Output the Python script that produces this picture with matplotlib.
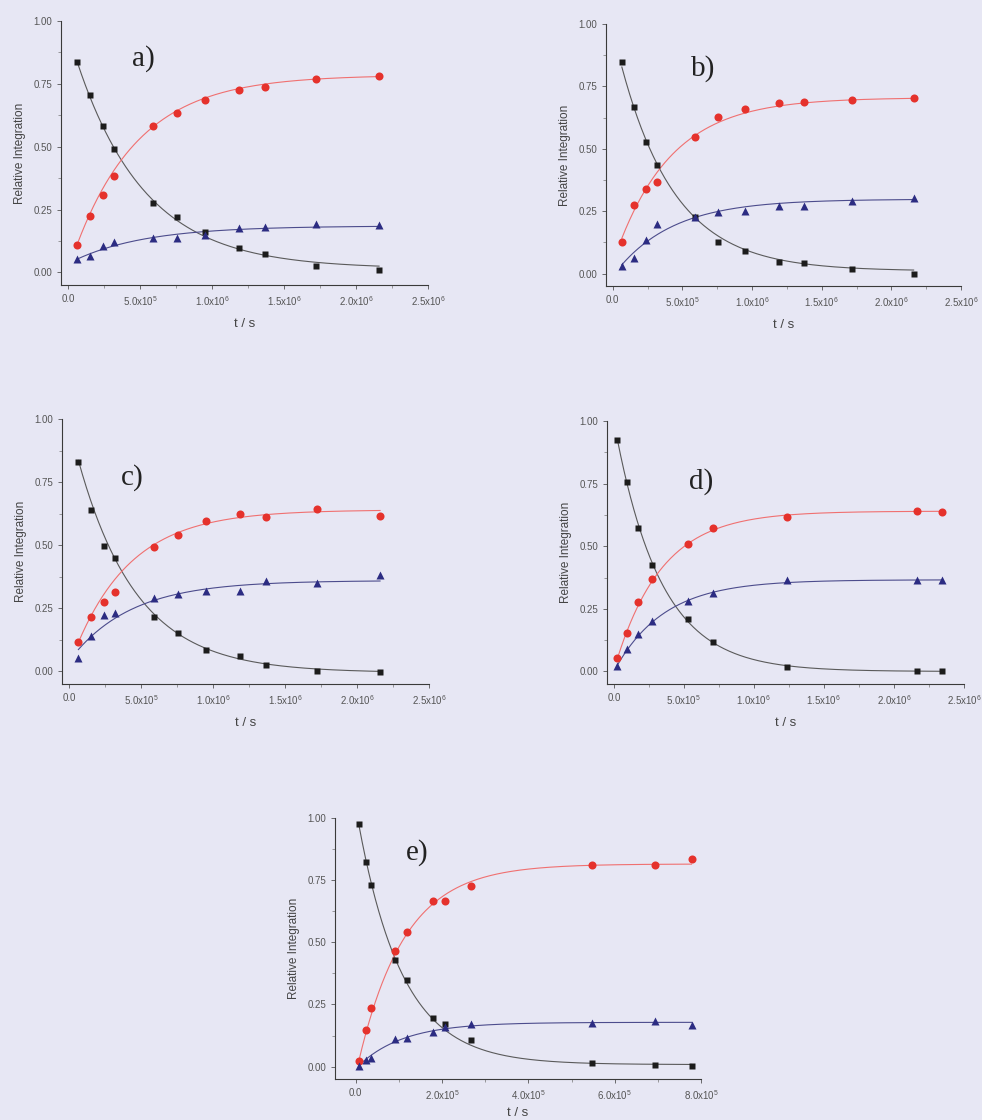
import numpy as np
import matplotlib
matplotlib.use('Agg')
import matplotlib.pyplot as plt
from matplotlib.ticker import MultipleLocator, FixedLocator, FixedFormatter

plt.rcParams['font.family'] = ['Liberation Sans', 'DejaVu Sans']
plt.rcParams['mathtext.default'] = 'regular'

# ---- data (t in units of 1e6 s for a-d, 1e5 s for e) ----
T_ABC = [0.065, 0.15, 0.24, 0.32, 0.59, 0.755, 0.95, 1.19, 1.37, 1.72, 2.16]

A_SQ = [0.835, 0.707, 0.583, 0.491, 0.276, 0.222, 0.159, 0.097, 0.074, 0.027, 0.009]
A_CIR = [0.108, 0.223, 0.307, 0.384, 0.584, 0.633, 0.685, 0.724, 0.736, 0.768, 0.781]
A_TRI = [0.053, 0.065, 0.106, 0.120, 0.138, 0.138, 0.150, 0.175, 0.179, 0.193, 0.190]

B_SQ = [0.849, 0.666, 0.527, 0.434, 0.225, 0.125, 0.091, 0.047, 0.044, 0.020, 0.000]
B_CIR = [0.127, 0.274, 0.340, 0.368, 0.547, 0.627, 0.660, 0.682, 0.688, 0.694, 0.705]
B_TRI = [0.029, 0.063, 0.136, 0.200, 0.227, 0.246, 0.252, 0.272, 0.272, 0.292, 0.304]

C_SQ = [0.828, 0.638, 0.497, 0.451, 0.216, 0.153, 0.086, 0.060, 0.025, 0.000, -0.004]
C_CIR = [0.118, 0.216, 0.276, 0.314, 0.493, 0.541, 0.597, 0.622, 0.613, 0.642, 0.617]
C_TRI = [0.054, 0.141, 0.222, 0.232, 0.289, 0.306, 0.317, 0.317, 0.357, 0.351, 0.381]

T_D = [0.026, 0.093, 0.176, 0.276, 0.530, 0.711, 1.236, 2.167, 2.343]
D_SQ = [0.924, 0.756, 0.572, 0.425, 0.209, 0.119, 0.017, 0.000, 0.000]
D_CIR = [0.053, 0.153, 0.277, 0.371, 0.508, 0.571, 0.615, 0.641, 0.636]
D_TRI = [0.023, 0.091, 0.148, 0.201, 0.283, 0.313, 0.364, 0.364, 0.367]

T_E = [0.07, 0.23, 0.36, 0.91, 1.18, 1.79, 2.06, 2.66, 5.47, 6.93, 7.78]
E_SQ = [0.975, 0.824, 0.731, 0.429, 0.347, 0.194, 0.173, 0.105, 0.015, 0.008, 0.001]
E_CIR = [0.021, 0.147, 0.236, 0.466, 0.540, 0.665, 0.668, 0.725, 0.812, 0.812, 0.835]
E_TRI = [0.004, 0.028, 0.035, 0.109, 0.113, 0.139, 0.160, 0.172, 0.177, 0.184, 0.166]

# first-order fit parameters: [square, circle, triangle]
A_FIT_K = [2.10, 2.25, 2.00]
A_FIT_Y0 = [0.955, 0.008, 0.035]
A_FIT_INF = [0.015, 0.785, 0.185]

B_FIT_K = [2.55, 2.50, 2.43]
B_FIT_Y0 = [0.975, 0.042, -0.010]
B_FIT_INF = [0.010, 0.705, 0.298]

C_FIT_K = [2.45, 2.55, 2.37]
C_FIT_Y0 = [0.981, 0.020, 0.041]
C_FIT_INF = [-0.005, 0.640, 0.360]

D_FIT_K = [3.05, 3.00, 2.82]
D_FIT_Y0 = [1.000, 0.005, 0.000]
D_FIT_INF = [0.000, 0.640, 0.366]

E_FIT_K = [0.97, 0.93, 0.95]
E_FIT_Y0 = [1.043, -0.032, -0.008]
E_FIT_INF = [0.008, 0.815, 0.178]

LONG_TICKS = ['0.0', '5.0x10$^5$', '1.0x10$^6$', '1.5x10$^6$', '2.0x10$^6$', '2.5x10$^6$']
SHORT_TICKS = ['0.0', '2.0x10$^5$', '4.0x10$^5$', '6.0x10$^5$', '8.0x10$^5$']

BG = '#e7e7f4'
SQ_COL = '#1c1c1c'
CIR_COL = '#e5322c'
TRI_COL = '#2c2c82'
LINE_COLS = ['#5a5a5a', '#f07070', '#4c4c8c']

W, H = 982, 1120


def make_axes(fig, left, top, right, bottom):
    return fig.add_axes([left / W, 1 - bottom / H, (right - left) / W, (bottom - top) / H])


def draw_panel(ax, t, series, fit_k, fit_y0, fit_inf, scale, xmax, xstep, ticklabels, letter, letter_xy):
    ax.set_facecolor(BG)
    t = np.asarray(t)
    # fitted curves
    tt = np.linspace(t[0], t[-1], 300)
    for k, y0, yinf, col in zip(fit_k, fit_y0, fit_inf, LINE_COLS):
        ax.plot(tt * scale, yinf + (y0 - yinf) * np.exp(-k * tt), color=col, lw=0.8, zorder=2)
    sq, cir, tri = series
    ax.plot(t * scale, sq, 's', color=SQ_COL, ms=4.8, mec='none', zorder=3)
    ax.plot(t * scale, cir, 'o', color=CIR_COL, ms=5.8, mec='none', zorder=3)
    ax.plot(t * scale, tri, '^', color=TRI_COL, ms=6.0, mec='none', zorder=3)

    ax.set_xlim(-0.0195 * xmax, xmax)
    ax.set_ylim(-0.05, 1.0)
    for s in ['top', 'right']:
        ax.spines[s].set_visible(False)
    for s in ['left', 'bottom']:
        ax.spines[s].set_color('#3a3a3a')
        ax.spines[s].set_linewidth(0.8)

    ax.xaxis.set_major_locator(FixedLocator(np.arange(len(ticklabels)) * xstep))
    ax.xaxis.set_major_formatter(FixedFormatter(ticklabels))
    ax.xaxis.set_minor_locator(MultipleLocator(xstep / 2))
    ax.yaxis.set_major_locator(FixedLocator([0, 0.25, 0.5, 0.75, 1.0]))
    ax.yaxis.set_minor_locator(MultipleLocator(0.125))
    ax.yaxis.set_major_formatter(plt.FuncFormatter(lambda v, p: f'{v:.2f}'))
    ax.tick_params(which='major', length=3, width=0.6, colors='#555555', labelsize=7, labelcolor='#555555')
    ax.tick_params(which='minor', length=2, width=0.5, colors='#777777')

    ax.set_xlabel('t / s', fontsize=9.5, color='#444444', labelpad=7)
    ax.set_ylabel('Relative Integration', fontsize=8.5, color='#444444', labelpad=5)
    ax.text(letter_xy[0], letter_xy[1], letter, fontsize=21, family='Liberation Serif',
            ha='center', va='center', color='#222222')


fig = plt.figure(figsize=(W / 100, H / 100), dpi=100)
fig.patch.set_facecolor(BG)

ax_a = make_axes(fig, 61, 21, 428, 285)
draw_panel(ax_a, T_ABC, (A_SQ, A_CIR, A_TRI), A_FIT_K, A_FIT_Y0, A_FIT_INF,
           1e6, 2.5e6, 0.5e6, LONG_TICKS, 'a)', (0.52e6, 0.85))

ax_b = make_axes(fig, 606, 24, 961, 286)
draw_panel(ax_b, T_ABC, (B_SQ, B_CIR, B_TRI), B_FIT_K, B_FIT_Y0, B_FIT_INF,
           1e6, 2.5e6, 0.5e6, LONG_TICKS, 'b)', (0.65e6, 0.82))

ax_c = make_axes(fig, 62, 419, 429, 684)
draw_panel(ax_c, T_ABC, (C_SQ, C_CIR, C_TRI), C_FIT_K, C_FIT_Y0, C_FIT_INF,
           1e6, 2.5e6, 0.5e6, LONG_TICKS, 'c)', (0.44e6, 0.77))

ax_d = make_axes(fig, 607, 421, 964, 684)
draw_panel(ax_d, T_D, (D_SQ, D_CIR, D_TRI), D_FIT_K, D_FIT_Y0, D_FIT_INF,
           1e6, 2.5e6, 0.5e6, LONG_TICKS, 'd)', (0.62e6, 0.76))

ax_e = make_axes(fig, 335, 818, 701, 1079)
draw_panel(ax_e, T_E, (E_SQ, E_CIR, E_TRI), E_FIT_K, E_FIT_Y0, E_FIT_INF,
           1e5, 8.0e5, 2.0e5, SHORT_TICKS, 'e)', (1.42e5, 0.86))
ax_e.set_xlim(-0.48e5, 8.0e5)
ax_e.xaxis.labelpad = 4

fig.savefig('out.png', dpi=100, facecolor=BG)
